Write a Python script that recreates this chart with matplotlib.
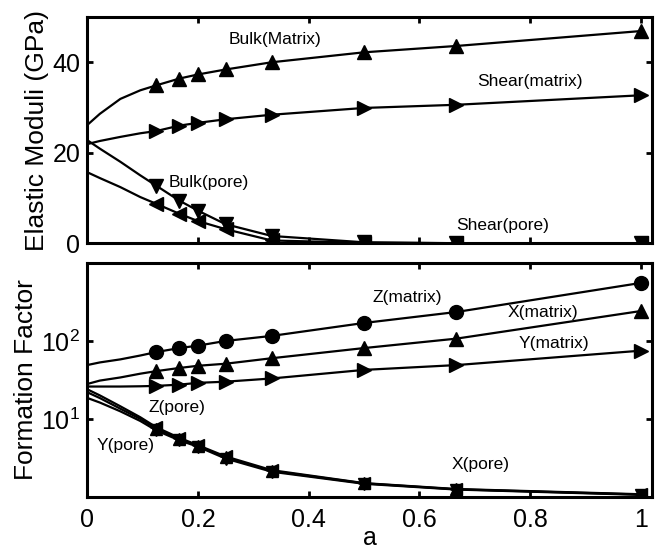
import numpy as np
import matplotlib
matplotlib.use('Agg')
import matplotlib.pyplot as plt

plt.rcParams['font.family'] = ['Liberation Sans', 'DejaVu Sans']
plt.rcParams['mathtext.fontset'] = 'custom'
plt.rcParams['mathtext.rm'] = 'Liberation Sans'
plt.rcParams['mathtext.default'] = 'regular'

# sample points (markers)
a_pts = [0.125, 1/6, 0.2, 0.25, 1/3, 0.5, 2/3, 1.0]

# top panel: elastic moduli (GPa)
bulk_matrix = [34.9, 36.4, 37.3, 38.4, 40.0, 42.2, 43.6, 46.9]
shear_matrix = [24.8, 26.0, 26.6, 27.4, 28.4, 29.9, 30.6, 32.7]
bulk_pore = [12.7, 9.4, 7.2, 4.2, 1.6, 0.2, 0.0, 0.0]
shear_pore = [8.7, 6.5, 4.9, 3.1, 0.6, 0.1, 0.0, 0.0]

# values of the curves near a = 0
a_start = [0.0, 0.023, 0.06, 0.096]
bulk_matrix_start = [26.1, 28.6, 31.9, 33.8]
shear_matrix_start = [21.9, 22.6, 23.5, 24.3]
bulk_pore_start = [22.8, 20.9, 18.0, 15.0]
shear_pore_start = [15.7, 14.4, 12.4, 10.2]

# bottom panel: formation factor
z_matrix = [72, 81, 87, 100, 116, 170, 235, 555]
x_matrix = [41, 45, 48, 51, 60, 81, 107, 242]
y_matrix = [26.5, 27.5, 29, 30, 33, 42.5, 49, 75]
x_pore = [7.5, 5.5, 4.5, 3.2, 2.15, 1.49, 1.25, 1.07]
y_pore = [7.1, 5.3, 4.4, 3.1, 2.1, 1.47, 1.24, 1.06]
z_pore = [7.8, 5.7, 4.6, 3.3, 2.2, 1.5, 1.26, 1.08]

z_matrix_start = [49, 53, 58, 65]
x_matrix_start = [28, 31, 34, 38]
y_matrix_start = [26, 26, 26, 26.2]
x_pore_start = [22, 18.5, 13.5, 10.0]
y_pore_start = [18.6, 16.2, 12.5, 9.4]
z_pore_start = [24, 20, 14.5, 10.5]

xticks = [0, 0.2, 0.4, 0.6, 0.8, 1.0]
xticklabels = ['0', '0.2', '0.4', '0.6', '0.8', '1']

fig = plt.figure(figsize=(6.6, 5.49), dpi=100)
ax1 = fig.add_axes([0.132, 0.557, 0.856, 0.412])
ax2 = fig.add_axes([0.132, 0.095, 0.856, 0.426])

lw = 1.6
ms = 10


def curve(ax, ys0, ys, marker, msize=ms):
    ax.plot(a_start + a_pts, ys0 + ys, color='k', lw=lw)
    ax.plot(a_pts, ys, ls='none', marker=marker, color='k', ms=msize)


curve(ax1, bulk_matrix_start, bulk_matrix, '^')
curve(ax1, shear_matrix_start, shear_matrix, '>')
curve(ax1, bulk_pore_start, bulk_pore, 'v')
curve(ax1, shear_pore_start, shear_pore, '<')

curve(ax2, z_matrix_start, z_matrix, 'o')
curve(ax2, x_matrix_start, x_matrix, '^')
curve(ax2, y_matrix_start, y_matrix, '>')
curve(ax2, x_pore_start, x_pore, '^', 8)
curve(ax2, y_pore_start, y_pore, 'v', 8)
curve(ax2, z_pore_start, z_pore, '<', 8)

ax1.set_ylim(0, 50)
ax1.set_yticks([0, 20, 40])
ax2.set_yscale('log')
ax2.set_ylim(1, 1000)
ax2.set_yticks([10, 100])
ax2.set_yticklabels(['10$^1$', '10$^2$'])
ax2.yaxis.set_minor_locator(matplotlib.ticker.NullLocator())

for ax in (ax1, ax2):
    ax.set_xlim(0, 1.02)
    ax.set_xticks(xticks)
    for s in ax.spines.values():
        s.set_linewidth(2.2)
    ax.tick_params(direction='in', top=True, right=True, length=4,
                   width=2, labelsize=18, pad=5)
ax1.set_xticklabels([])
ax2.set_xticklabels(xticklabels)
ax2.tick_params(axis='x', pad=8)

ax1.set_ylabel('Elastic Moduli (GPa)', fontsize=19, labelpad=2)
ax2.set_ylabel('Formation Factor', fontsize=19, labelpad=2)
ax2.set_xlabel('a', fontsize=18, labelpad=-4)

tsz = 12.5
ax1.text(0.34, 45.1, 'Bulk(Matrix)', fontsize=tsz, ha='center', va='center')
ax1.text(0.80, 35.7, 'Shear(matrix)', fontsize=tsz, ha='center', va='center')
ax1.text(0.22, 13.4, 'Bulk(pore)', fontsize=tsz, ha='center', va='center')
ax1.text(0.75, 4.0, 'Shear(pore)', fontsize=tsz, ha='center', va='center')

ax2.text(0.578, 365, 'Z(matrix)', fontsize=tsz, ha='center', va='center')
ax2.text(0.823, 235, 'X(matrix)', fontsize=tsz, ha='center', va='center')
ax2.text(0.843, 92, 'Y(matrix)', fontsize=tsz, ha='center', va='center')
ax2.text(0.162, 13.8, 'Z(pore)', fontsize=tsz, ha='center', va='center')
ax2.text(0.07, 4.5, 'Y(pore)', fontsize=tsz, ha='center', va='center')
ax2.text(0.71, 2.57, 'X(pore)', fontsize=tsz, ha='center', va='center')

fig.savefig('out.png', dpi=100)
